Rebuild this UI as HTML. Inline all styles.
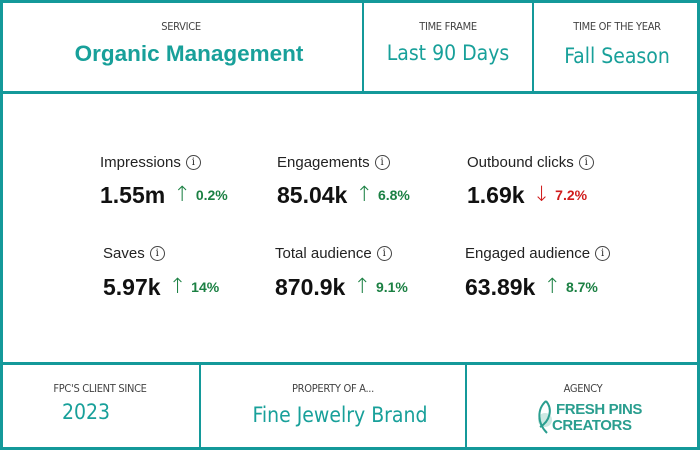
<!DOCTYPE html>
<html><head><meta charset="utf-8"><style>
*{margin:0;padding:0;box-sizing:border-box}
body{width:700px;height:450px;background:#fff;position:relative;overflow:hidden;font-family:"Liberation Sans",sans-serif}
.a{position:absolute}
.ln{position:absolute;background:#14999a}
.cap{position:absolute;font-size:11px;color:#444;text-align:center;transform:translateX(-50%);white-space:nowrap;font-family:"DejaVu Sans Condensed","Liberation Sans",sans-serif;letter-spacing:-0.3px}
.big{position:absolute;font-size:21px;color:#18a09a;text-align:center;transform:translateX(-50%);white-space:nowrap;font-family:"DejaVu Sans Condensed","Liberation Sans",sans-serif}
.lab{position:absolute;font-size:15px;color:#222;white-space:nowrap}
.i{display:inline-block;width:15px;height:15px;border:1.2px solid #444;border-radius:50%;font-size:10px;text-align:center;line-height:13px;vertical-align:top;margin-top:1px;margin-left:5px;font-family:"DejaVu Serif",serif}
.val{position:absolute;font-size:23px;font-weight:bold;color:#111;white-space:nowrap;line-height:28px}
.up{color:#1b8043;font-size:14px;font-weight:bold;margin-left:8px;display:inline-block;vertical-align:top;line-height:28px}
.up b{font-weight:200;font-size:21px;margin-right:5px;font-family:"DejaVu Sans",sans-serif;vertical-align:top;display:inline-block;line-height:26px}
.dn{color:#d01c1c}
</style></head><body>
<div class="ln" style="left:0;top:0;width:700px;height:3px"></div>
<div class="ln" style="left:0;top:447px;width:700px;height:3px"></div>
<div class="ln" style="left:0;top:0;width:3px;height:450px"></div>
<div class="ln" style="left:697px;top:0;width:3px;height:450px"></div>
<div class="ln" style="left:0;top:91px;width:700px;height:3px"></div>
<div class="ln" style="left:0;top:362px;width:700px;height:3px"></div>
<div class="ln" style="left:362px;top:0;width:2px;height:92px"></div>
<div class="ln" style="left:532px;top:0;width:2px;height:92px"></div>
<div class="ln" style="left:199px;top:363px;width:2px;height:86px"></div>
<div class="ln" style="left:465px;top:363px;width:2px;height:86px"></div>

<div class="cap" style="left:181px;top:20px">SERVICE</div>
<div class="big" style="left:189px;top:41px;font-weight:bold;font-family:'Liberation Sans',sans-serif;font-size:22.5px">Organic Management</div>
<div class="cap" style="left:448px;top:20px">TIME FRAME</div>
<div class="big" style="left:448px;top:41px">Last 90 Days</div>
<div class="cap" style="left:617px;top:20px">TIME OF THE YEAR</div>
<div class="big" style="left:617px;top:44px">Fall Season</div>

<div class="lab" style="left:100px;top:154px">Impressions<span class="i">i</span></div>
<div class="val" style="left:100px;top:181px">1.55m<span class="up"><b>↑</b>0.2%</span></div>
<div class="lab" style="left:277px;top:154px">Engagements<span class="i">i</span></div>
<div class="val" style="left:277px;top:181px">85.04k<span class="up"><b>↑</b>6.8%</span></div>
<div class="lab" style="left:467px;top:154px">Outbound clicks<span class="i">i</span></div>
<div class="val" style="left:467px;top:181px">1.69k<span class="up dn"><b>↓</b>7.2%</span></div>

<div class="lab" style="left:103px;top:245px">Saves<span class="i">i</span></div>
<div class="val" style="left:103px;top:273px">5.97k<span class="up"><b>↑</b>14%</span></div>
<div class="lab" style="left:275px;top:245px">Total audience<span class="i">i</span></div>
<div class="val" style="left:275px;top:273px">870.9k<span class="up"><b>↑</b>9.1%</span></div>
<div class="lab" style="left:465px;top:245px">Engaged audience<span class="i">i</span></div>
<div class="val" style="left:465px;top:273px">63.89k<span class="up"><b>↑</b>8.7%</span></div>

<div class="cap" style="left:100px;top:382px">FPC'S CLIENT SINCE</div>
<div class="big" style="left:86px;top:400px">2023</div>
<div class="cap" style="left:333px;top:382px">PROPERTY OF A...</div>
<div class="big" style="left:340px;top:403px">Fine Jewelry Brand</div>
<div class="cap" style="left:583px;top:382px">AGENCY</div>
<svg class="a" style="left:534px;top:399px" width="24" height="36" viewBox="0 0 24 36">
<circle cx="11" cy="21" r="7" fill="#bfe3dc" opacity="0.8"/>
<path d="M12 2 C3 10 3 24 13 34 M12 2 C19 10 16 22 6 28" fill="none" stroke="#2a9e8f" stroke-width="2"/>
</svg>
<div class="a" style="left:556px;top:402px;font-size:15px;font-weight:bold;color:#2a9e8f;line-height:16px;letter-spacing:-0.4px">FRESH PINS<br><span style="margin-left:-4px">CREATORS</span></div>
</body></html>
